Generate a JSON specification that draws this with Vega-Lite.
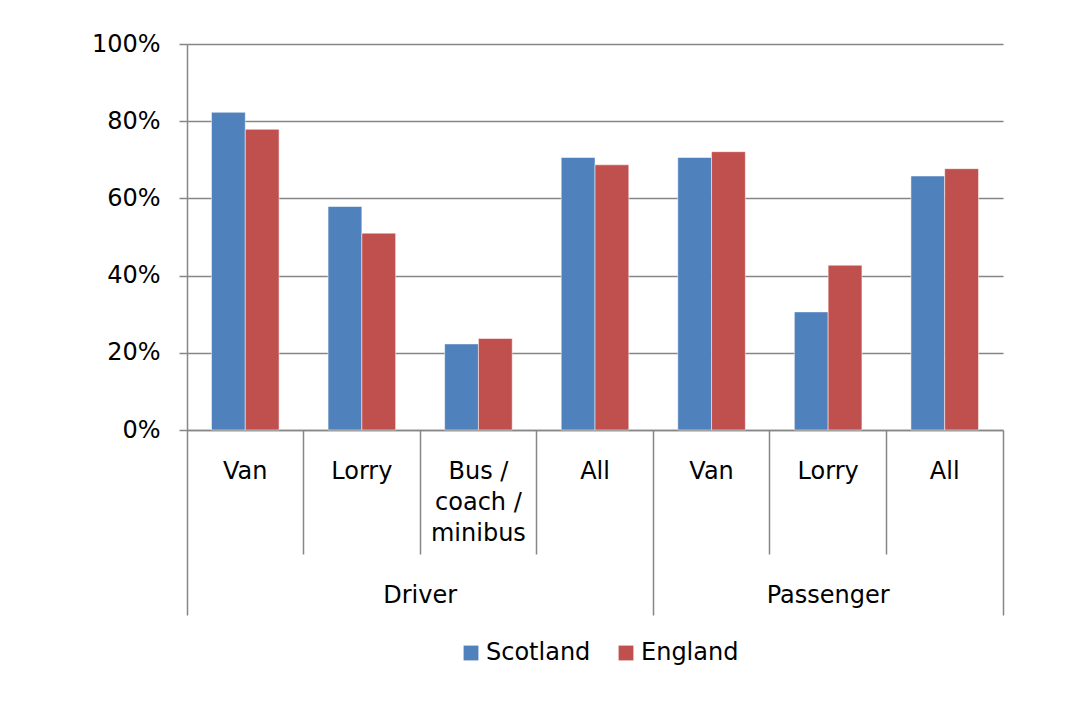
{
  "$schema": "https://vega.github.io/schema/vega-lite/v6.json",
  "width": 816,
  "height": 386,
  "autosize": {"type": "none"},
  "padding": {"left": 187, "top": 44, "right": 76, "bottom": 274},
  "background": "white",
  "config": {"view": {"stroke": null}, "font": "DejaVu Sans"},
  "data": {
    "values": [
      {"key": "Driver: Van", "group": "Driver", "category": "Van", "country": "Scotland", "value": 82.3},
      {"key": "Driver: Van", "group": "Driver", "category": "Van", "country": "England", "value": 77.9},
      {"key": "Driver: Lorry", "group": "Driver", "category": "Lorry", "country": "Scotland", "value": 57.9},
      {"key": "Driver: Lorry", "group": "Driver", "category": "Lorry", "country": "England", "value": 51.0},
      {"key": "Driver: Bus / coach / minibus", "group": "Driver", "category": "Bus / coach / minibus", "country": "Scotland", "value": 22.3},
      {"key": "Driver: Bus / coach / minibus", "group": "Driver", "category": "Bus / coach / minibus", "country": "England", "value": 23.7},
      {"key": "Driver: All", "group": "Driver", "category": "All", "country": "Scotland", "value": 70.6},
      {"key": "Driver: All", "group": "Driver", "category": "All", "country": "England", "value": 68.7},
      {"key": "Passenger: Van", "group": "Passenger", "category": "Van", "country": "Scotland", "value": 70.6},
      {"key": "Passenger: Van", "group": "Passenger", "category": "Van", "country": "England", "value": 72.1},
      {"key": "Passenger: Lorry", "group": "Passenger", "category": "Lorry", "country": "Scotland", "value": 30.6},
      {"key": "Passenger: Lorry", "group": "Passenger", "category": "Lorry", "country": "England", "value": 42.7},
      {"key": "Passenger: All", "group": "Passenger", "category": "All", "country": "Scotland", "value": 65.8},
      {"key": "Passenger: All", "group": "Passenger", "category": "All", "country": "England", "value": 67.7}
    ]
  },
  "layer": [
    {
      "mark": {"type": "bar", "stroke": "#ffffff", "strokeOpacity": 0.5, "strokeWidth": 1},
      "encoding": {
        "x": {
          "field": "key", "type": "nominal", "sort": null,
          "scale": {"paddingInner": 0, "paddingOuter": 0},
          "axis": {
            "orient": "bottom", "title": null, "ticks": false,
            "domain": true, "domainColor": "#868686", "domainWidth": 1.5,
            "labelAngle": 0, "labelFontSize": 24, "labelColor": "#000000",
            "labelPadding": 29, "labelLineHeight": 31, "labelOverlap": false,
            "labelExpr": "datum.value == 'Driver: Bus / coach / minibus' ? ['Bus /', 'coach /', 'minibus'] : split(datum.value, ': ')[1]"
          }
        },
        "xOffset": {
          "field": "country", "type": "nominal", "sort": ["Scotland", "England"],
          "scale": {"paddingInner": 0, "paddingOuter": 0.725}
        },
        "y": {
          "field": "value", "type": "quantitative",
          "scale": {"domain": [0, 100]},
          "axis": {
            "values": [0, 20, 40, 60, 80, 100],
            "labelExpr": "datum.value + '%'",
            "title": null, "grid": true,
            "gridColor": "#868686", "gridWidth": 1.5,
            "domainColor": "#868686", "domainWidth": 1.5,
            "tickColor": "#868686", "tickSize": 8, "tickWidth": 1.5,
            "labelFontSize": 24, "labelPadding": 19, "labelColor": "#000000"
          }
        },
        "color": {
          "field": "country", "type": "nominal",
          "scale": {"domain": ["Scotland", "England"], "range": ["#4F81BD", "#C0504D"]},
          "legend": {
            "orient": "none", "legendX": 272, "legendY": 597,
            "title": null, "direction": "horizontal",
            "labelFontSize": 24, "labelColor": "#000000",
            "symbolType": "square", "symbolSize": 220, "symbolStrokeWidth": 0,
            "columnPadding": 23, "labelOffset": 3
          }
        }
      }
    },
    {
      "mark": {"type": "point", "opacity": 0},
      "encoding": {
        "x": {
          "field": "key", "type": "nominal", "sort": null,
          "axis": {
            "orient": "bottom", "title": null, "labels": false, "domain": false,
            "bandPosition": 0, "ticks": true, "tickColor": "#868686", "tickWidth": 1.5,
            "tickSize": {"condition": {"test": "datum.value == 'Driver: Van' || datum.value == 'Passenger: Van'", "value": 185}, "value": 124}
          }
        }
      }
    },
    {
      "mark": {"type": "point", "opacity": 0},
      "encoding": {
        "x": {
          "field": "key", "type": "nominal", "sort": null,
          "axis": {
            "orient": "bottom", "title": null, "labels": false, "domain": false,
            "values": ["Passenger: All"],
            "bandPosition": 1, "ticks": true, "tickColor": "#868686", "tickWidth": 1.5,
            "tickSize": 185
          }
        }
      }
    },
    {
      "mark": {"type": "point", "opacity": 0},
      "encoding": {
        "x": {
          "field": "key", "type": "nominal", "sort": null,
          "axis": {
            "orient": "bottom", "title": null, "domain": false, "ticks": false,
            "values": ["Driver: Bus / coach / minibus"],
            "labelAngle": 0, "labelOffset": -58.3,
            "labelExpr": "'Driver'", "labelFontSize": 24, "labelColor": "#000000",
            "labelPadding": 153
          }
        }
      }
    },
    {
      "mark": {"type": "point", "opacity": 0},
      "encoding": {
        "x": {
          "field": "key", "type": "nominal", "sort": null,
          "axis": {
            "orient": "bottom", "title": null, "domain": false, "ticks": false,
            "values": ["Passenger: Lorry"],
            "labelAngle": 0,
            "labelExpr": "'Passenger'", "labelFontSize": 24, "labelColor": "#000000",
            "labelPadding": 153
          }
        }
      }
    }
  ],
  "resolve": {"axis": {"x": "independent"}}
}
